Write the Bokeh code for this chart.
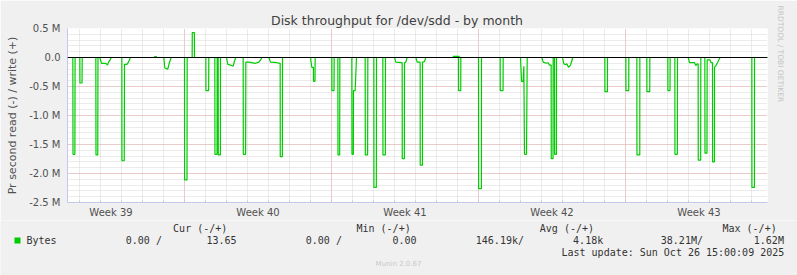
from bokeh.plotting import figure
from bokeh.models import (Range1d, FixedTicker, Grid, Span, Title, Label, BoxAnnotation)
from bokeh.embed import file_html
from bokeh.resources import INLINE

# ---------------- data (x: days since Mon 2025-09-22 00:00, y: MB/s) -------------
x_start_day = 1.4286
x_end_day = 34.762

week_start_days = [0, 7, 14, 21, 28]
week_names = ["Week 39", "Week 40", "Week 41", "Week 42", "Week 43"]
day_marks = list(range(1, 35))

y_ticks = [-2500000, -2000000, -1500000, -1000000, -500000, 0, 500000]
y_tick_labels = ["-2.5 M", "-2.0 M", "-1.5 M", "-1.0 M", "-0.5 M", "0.0", "0.5 M"]
y_minor = [-2400000 + 100000 * i for i in range(0, 30)]

# read (plotted negative), values in MB/s
read_points = [
    (1.43, 0),
    (1.683, 0), (1.69, 1.67), (1.78, 1.67), (1.79, 0),
    (2.016, 0), (2.02, 0.44), (2.12, 0.44), (2.13, 0),
    (2.778, 0), (2.785, 1.68), (2.87, 1.68), (2.88, 0),
    (2.968, 0), (3.048, 0.10), (3.254, 0.10), (3.333, 0.13), (3.381, 0.08), (3.444, 0.05), (3.508, 0),
    (4.016, 0), (4.02, 1.78), (4.13, 1.78), (4.143, 0.12), (4.222, 0.12), (4.286, 0.11), (4.365, 0.05), (4.43, 0),
    (6.016, 0), (6.063, 0.18), (6.206, 0.20), (6.27, 0.10), (6.365, 0),
    (7.0, 0), (7.005, 2.11), (7.12, 2.11), (7.127, 0),
    (8.016, 0), (8.02, 0.57), (8.15, 0.57), (8.159, 0),
    (8.444, 0), (8.45, 1.67), (8.55, 1.67), (8.556, 0),
    (8.603, 0), (8.61, 1.68), (8.71, 1.68), (8.714, 0),
    (9.0, 0), (9.063, 0.12), (9.19, 0.13), (9.317, 0.15), (9.381, 0.06), (9.444, 0),
    (9.794, 0), (9.80, 1.67), (9.91, 1.67), (9.92, 0.08), (10.063, 0.08), (10.381, 0.10), (10.54, 0.08), (10.698, 0),
    (11.016, 0), (11.095, 0.08), (11.413, 0.09), (11.524, 0.10), (11.556, 0.10), (11.56, 1.71), (11.66, 1.71), (11.667, 0),
    (13.0, 0), (13.063, 0.17), (13.14, 0.17), (13.143, 0.41), (13.215, 0.41), (13.222, 0),
    (14.016, 0), (14.02, 0.57), (14.12, 0.57), (14.127, 0),
    (14.302, 0), (14.31, 1.68), (14.39, 1.68), (14.397, 0),
    (14.968, 0), (14.975, 1.67), (15.04, 1.67), (15.048, 0.57), (15.127, 0.57), (15.19, 0),
    (15.603, 0), (15.61, 1.68), (15.72, 1.68), (15.73, 0),
    (16.016, 0), (16.02, 2.24), (16.135, 2.24), (16.143, 0),
    (16.444, 0), (16.45, 1.68), (16.565, 1.68), (16.571, 0),
    (17.0, 0), (17.063, 0.08), (17.317, 0.09), (17.365, 0.09), (17.37, 1.745), (17.47, 1.745), (17.476, 0.09), (17.54, 0.08), (17.603, 0),
    (18.016, 0), (18.079, 0.08), (18.222, 0.08), (18.225, 1.855), (18.33, 1.855), (18.333, 0.08), (18.429, 0.07), (18.492, 0),
    (20.048, 0), (20.05, 0.57), (20.155, 0.57), (20.159, 0),
    (21.0, 0), (21.005, 2.26), (21.14, 2.26), (21.143, 0),
    (22.032, 0), (22.035, 0.57), (22.17, 0.57), (22.175, 0),
    (23.0, 0), (23.05, 0.41), (23.127, 0.41), (23.159, 0.15), (23.19, 1.67), (23.286, 1.67), (23.32, 0),
    (24.016, 0), (24.079, 0.08), (24.222, 0.10), (24.302, 0.09), (24.381, 0.13), (24.46, 0.13), (24.465, 1.745), (24.55, 1.745), (24.556, 0),
    (24.619, 0), (24.625, 1.67), (24.71, 1.67), (24.714, 0),
    (25.0, 0), (25.063, 0.11), (25.143, 0.12), (25.206, 0.11), (25.286, 0.17), (25.381, 0.13), (25.492, 0),
    (27.016, 0), (27.02, 0.59), (27.14, 0.59), (27.143, 0),
    (28.016, 0), (28.02, 0.57), (28.155, 0.57), (28.159, 0),
    (28.54, 0), (28.545, 1.68), (28.68, 1.68), (28.683, 0),
    (29.016, 0), (29.02, 0.59), (29.155, 0.59), (29.159, 0),
    (30.016, 0), (30.02, 0.57), (30.12, 0.57), (30.127, 0),
    (30.349, 0), (30.355, 1.67), (30.47, 1.67), (30.476, 0),
    (30.984, 0), (31.048, 0.09), (31.286, 0.09), (31.349, 0.14), (31.413, 0.11), (31.46, 0.11), (31.465, 1.77), (31.58, 1.77), (31.587, 0),
    (31.778, 0), (31.785, 1.65), (31.88, 1.65), (31.889, 0.04), (32.016, 0.04), (32.079, 0.09), (32.143, 0.09), (32.146, 1.80),
    (32.235, 1.80), (32.238, 0.17), (32.302, 0.14), (32.381, 0.09), (32.46, 0.03), (32.508, 0),
    (34.016, 0), (34.02, 2.24), (34.14, 2.24), (34.143, 0),
    (34.77, 0),
]

write_points = [
    (1.43, 0),
    (5.571, 0), (5.58, 0.015), (5.66, 0.015), (5.667, 0),
    (7.365, 0), (7.37, 0.43), (7.47, 0.43), (7.476, 0),
    (19.794, 0), (19.80, 0.02), (20.075, 0.02), (20.079, 0),
    (34.77, 0),
]

title_text = "Disk throughput for /dev/sdd - by month"
y_label_text = "Pr second read (-) / write (+)"
legend_headers = ["Cur (-/+)", "Min (-/+)", "Avg (-/+)", "Max (-/+)"]
legend_name = "Bytes"
legend_values = ["0.00 /", "13.65", "0.00 /", "0.00", "146.19k/", "4.18k", "38.21M/", "1.62M"]
last_update = "Last update: Sun Oct 26 15:00:09 2025"
munin_version = "Munin 2.0.67"
rrd_credit = "RRDTOOL / TOBI OETIKER"

# layout (canvas pixels)
W = 797
FL, FT, FW, FH = 67, 28, 700, 175
TOP_H = 220                 # height of the graph part
BOT_H = 275 - TOP_H         # height of the legend strip
header_x = [172.6, 356.0, 539.3, 722.0]
value_x = [125.3, 206.0, 305.3, 392.0, 475.3, 572.6, 660.3, 753.3]
name_x = 26.0
update_x = 561.0
row_y = [227.6, 239.8, 251.9]

GRID_MINOR = "#d6d6d6"
GRID_MAJOR = "#e8a9a9"
AXIS_COL = "#c4c8ec"
TXT = "#505050"
LEG = "#333333"
BG = "#f0f0f0"
GREEN = "#00cc00"

# ---------------- graph figure ----------------
p = figure(width=W, height=TOP_H, output_backend="svg", toolbar_location=None,
           x_range=Range1d(x_start_day, x_end_day),
           y_range=Range1d(-2.5e6, 0.5e6),
           min_border_left=FL, min_border_right=W - FL - FW,
           min_border_top=FT, min_border_bottom=TOP_H - FT - FH,
           background_fill_color="white", border_fill_color=BG, title=None)
p.outline_line_color = None

p.xgrid.visible = False
p.ygrid.visible = False
p.add_layout(Grid(dimension=0, ticker=FixedTicker(ticks=week_start_days, minor_ticks=day_marks),
                  grid_line_color=GRID_MAJOR, grid_line_dash="1 1",
                  minor_grid_line_color=GRID_MINOR, minor_grid_line_dash="1 1"))
p.add_layout(Grid(dimension=1, ticker=FixedTicker(ticks=y_ticks, minor_ticks=y_minor),
                  grid_line_color=GRID_MAJOR, grid_line_dash="1 1",
                  minor_grid_line_color=GRID_MINOR, minor_grid_line_dash="1 1"))

week_centers = [d + 3.5 for d in week_start_days]
p.xaxis.ticker = FixedTicker(ticks=week_centers, minor_ticks=day_marks)
p.xaxis.major_label_overrides = {c: n for c, n in zip(week_centers, week_names)}
p.xaxis.major_tick_line_color = None
p.xaxis.major_tick_in = 0
p.xaxis.major_tick_out = 0
p.xaxis.minor_tick_line_color = "#c8c8c8"
p.xaxis.minor_tick_in = 2
p.xaxis.minor_tick_out = 0
p.xaxis.axis_line_color = AXIS_COL
p.xaxis.major_label_text_font = "DejaVu Sans"
p.xaxis.major_label_text_font_size = "10px"
p.xaxis.major_label_text_color = TXT
p.xaxis.major_label_standoff = 4

p.yaxis.ticker = FixedTicker(ticks=y_ticks)
p.yaxis.major_label_overrides = {t: s for t, s in zip(y_ticks, y_tick_labels)}
p.yaxis.major_tick_line_color = None
p.yaxis.major_tick_in = 0
p.yaxis.major_tick_out = 0
p.yaxis.minor_tick_line_color = None
p.yaxis.axis_line_color = AXIS_COL
p.yaxis.major_label_text_font = "DejaVu Sans"
p.yaxis.major_label_text_font_size = "10px"
p.yaxis.major_label_text_color = TXT
p.yaxis.major_label_standoff = 7
p.yaxis.axis_label = y_label_text
p.yaxis.axis_label_text_font = "DejaVu Sans"
p.yaxis.axis_label_text_font_size = "11px"
p.yaxis.axis_label_text_font_style = "normal"
p.yaxis.axis_label_text_color = TXT
p.yaxis.axis_label_standoff = 7

rx = [d for d, v in read_points]
ry = [-v * 1e6 for d, v in read_points]
wx = [d for d, v in write_points]
wy = [v * 1e6 for d, v in write_points]
p.line(rx, ry, line_color=GREEN, line_width=1.2)
p.line(wx, wy, line_color=GREEN, line_width=1.2)
p.add_layout(Span(location=0, dimension="width", line_color="black", line_width=1))

p.add_layout(Title(text=title_text, align="left", offset=203.5, standoff=0,
                   vertical_align="middle", text_font="DejaVu Sans",
                   text_font_size="12.5px", text_font_style="normal", text_color="#404040"),
             "above")
p.add_layout(Title(text=rrd_credit, align="left", offset=-23, standoff=16,
                   text_font="DejaVu Sans", text_font_size="7.5px",
                   text_font_style="normal", text_color="#c4c4c4"), "right")

# ---------------- legend strip (rrdtool text block), its own root ----------------
# its frame covers the whole strip; data units = canvas pixels of the full picture
q = figure(width=W, height=BOT_H, output_backend="svg", toolbar_location=None,
           x_range=Range1d(0, W), y_range=Range1d(275, TOP_H),
           x_axis_location=None, y_axis_location=None,
           min_border_left=0, min_border_right=0, min_border_top=0, min_border_bottom=0,
           min_border=0, background_fill_color=BG, border_fill_color=BG, title=None)
q.outline_line_color = None
q.grid.visible = False


def put(x, y, s, size="10px", font="DejaVu Sans Mono", color=LEG, align="left"):
    q.add_layout(Label(x=x, y=y, text=s, text_font=font, text_font_size=size,
                       text_color=color, text_align=align, text_baseline="middle"))


for hx, h in zip(header_x, legend_headers):
    put(hx, row_y[0], h)
q.add_layout(BoxAnnotation(left=14, right=20, top=237, bottom=243,
                           fill_color=GREEN, fill_alpha=1.0, line_color=None))
put(name_x, row_y[1], legend_name)
for vx, v in zip(value_x, legend_values):
    put(vx, row_y[1], v)
put(update_x, row_y[2], last_update)
put(398, 263.8, munin_version, size="7px", font="DejaVu Sans", color="#c8c8c8", align="center")

open("out.html", "w").write(file_html([p, q], INLINE))
